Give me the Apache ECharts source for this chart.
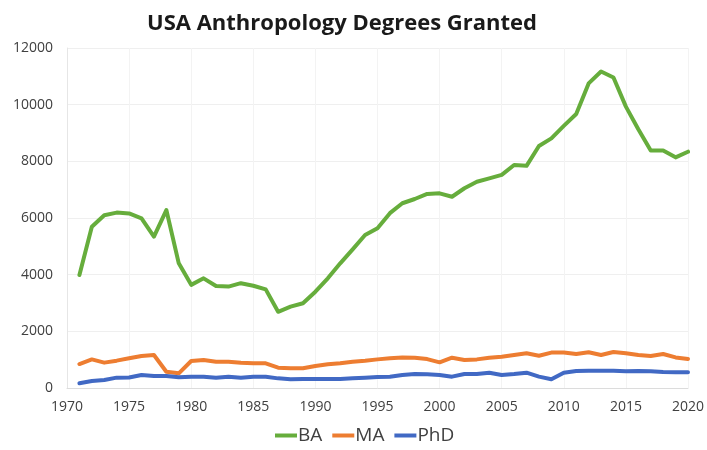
<!DOCTYPE html>
<html>
<head>
<meta charset="utf-8">
<script src="https://cdn.jsdelivr.net/npm/echarts@6/dist/echarts.min.js"></script>
<style>html,body{margin:0;padding:0;background:#fff;}#c{width:707px;height:450px;}</style>
</head>
<body>
<div id="c"></div>
<script>
var years = [1971,1972,1973,1974,1975,1976,1977,1978,1979,1980,1981,1982,1983,1984,1985,1986,1987,1988,1989,1990,1991,1992,1993,1994,1995,1996,1997,1998,1999,2000,2001,2002,2003,2004,2005,2006,2007,2008,2009,2010,2011,2012,2013,2014,2015,2016,2017,2018,2019,2020];
var ba = [3990,5690,6100,6190,6160,5990,5340,6280,4400,3640,3870,3600,3580,3700,3610,3480,2690,2870,2990,3400,3870,4400,4890,5400,5640,6170,6520,6670,6850,6870,6750,7050,7280,7400,7520,7870,7840,8540,8810,9250,9670,10750,11170,10960,9930,9130,8380,8380,8140,8340];
var ma = [847,1010,895,965,1050,1130,1165,575,518,953,990,930,930,895,870,870,718,694,694,776,835,870,930,965,1010,1050,1080,1070,1020,905,1070,990,1010,1070,1105,1165,1225,1140,1250,1250,1200,1260,1165,1270,1225,1165,1130,1200,1080,1020];
var phd = [165,247,282,365,370,460,424,424,376,400,400,365,400,365,400,400,340,306,318,318,318,318,340,365,385,400,460,494,483,460,400,494,494,541,460,494,541,400,306,541,600,612,612,612,588,600,588,565,553,553];
var seriesNames = ['BA','MA','PhD'];
var colors = ['#66ad3c','#ed7d31','#4169c4'];

function pairs(v){ return years.map(function(y,i){ return [y, v[i]]; }); }
var allData = [ba, ma, phd];

var chart = echarts.init(document.getElementById('c'), null, {renderer:'canvas'});
chart.setOption({
  animation:false,
  backgroundColor:'#ffffff',
  title:{
    text:'USA Anthropology Degrees Granted',
    left:142, top:8,
    textStyle:{fontFamily:'Open Sans', fontWeight:'bold', fontSize:22, color:'#1a1a1a'}
  },
  legend:{
    bottom:0, left:270,
    data:seriesNames,
    icon:'rect', itemWidth:22, itemHeight:4, itemGap:10,
    textStyle:{fontFamily:'Open Sans', fontSize:19, color:'#404040', padding:[0,0,0,-4]}
  },
  grid:{left:67, right:15, top:48, bottom:62, containLabel:false},
  xAxis:{
    type:'value', min:1970, max:2020, interval:5,
    axisLine:{show:true, lineStyle:{color:'#dcdcdc', width:1}},
    axisTick:{show:false},
    axisLabel:{fontFamily:'Open Sans', fontSize:14, color:'#404040', margin:12, formatter:function(v){return String(v);}},
    splitLine:{show:true, lineStyle:{color:'#f3f3f3', width:1}}
  },
  yAxis:{
    type:'value', min:0, max:12000, interval:2000,
    axisLine:{show:true, lineStyle:{color:'#e6e6e6'}},
    axisTick:{show:false},
    axisLabel:{fontFamily:'Open Sans', fontSize:14, color:'#404040', margin:14, formatter:function(v){return String(v);}},
    splitLine:{show:true, lineStyle:{color:'#efefef', width:1}}
  },
  series: seriesNames.map(function(n,i){
    return {
      name:n, type:'line', data:pairs(allData[i]),
      showSymbol:false, symbol:'none',
      lineStyle:{width:4, color:colors[i], join:'round', cap:'round'},
      itemStyle:{color:colors[i]}
    };
  })
});
</script>
</body>
</html>
